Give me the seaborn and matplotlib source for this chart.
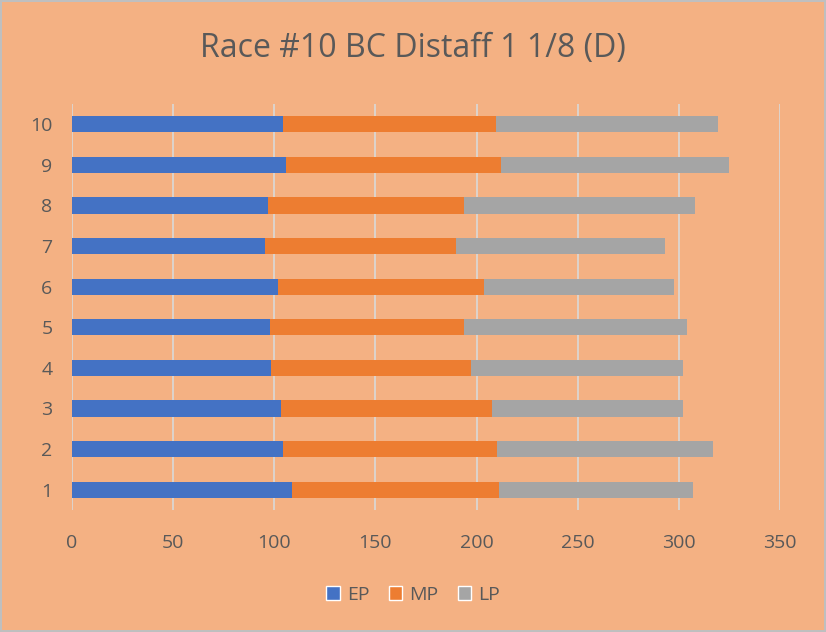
import numpy as np
import pandas as pd
import matplotlib
matplotlib.use("Agg")
from matplotlib import pyplot as plt
from matplotlib.patches import Patch
import seaborn as sns

races = ['1', '2', '3', '4', '5', '6', '7', '8', '9', '10']
ep = [109.0, 104.1, 103.4, 98.2, 97.8, 101.9, 95.3, 97.1, 105.7, 104.3]
mp = [102.2, 105.9, 104.3, 99.2, 96.1, 101.9, 94.4, 96.8, 106.3, 105.3]
lp = [95.8, 106.8, 94.2, 104.7, 110.3, 94.0, 103.5, 114.1, 113.0, 109.8]

BG = '#F4B183'
TXT = '#595959'
colors = {'EP': '#4472C4', 'MP': '#ED7D31', 'LP': '#A5A5A5'}

sns.set_style("white")
plt.rcParams['font.family'] = ['Open Sans', 'DejaVu Sans']

df = pd.DataFrame({'race': races, 'EP': ep, 'MP': mp, 'LP': lp})
df['c_EP'] = df['EP']
df['c_MP'] = df['EP'] + df['MP']
df['c_LP'] = df['c_MP'] + df['LP']
order = races[::-1]

fig = plt.figure(figsize=(8.26, 6.32), dpi=100, facecolor=BG,
                 edgecolor='#BFBFBF', linewidth=1.5)
ax = fig.add_axes([72 / 826, 1 - 510 / 632, 708 / 826, 406 / 632])
ax.set_facecolor(BG)

# stacked bars: draw the running totals, largest first
for key in ['LP', 'MP', 'EP']:
    sns.barplot(data=df, x='c_' + key, y='race', order=order, orient='h',
                color=colors[key], width=0.4, saturation=1, linewidth=0,
                ax=ax)

ax.set_xlim(0, 350)
ax.set_xticks(np.arange(0, 351, 50))
ax.xaxis.grid(True, color='#D9D9D9', linewidth=1.2)
ax.set_axisbelow(True)
for s in ax.spines.values():
    s.set_visible(False)
ax.set_xlabel('')
ax.set_ylabel('')
ax.tick_params(axis='both', length=0, labelsize=14, labelcolor=TXT)
ax.tick_params(axis='x', pad=17)
ax.tick_params(axis='y', pad=14)

fig.text(0.5, 1 - 48 / 632, 'Race #10 BC Distaff 1 1/8 (D)', ha='center',
         va='center', fontsize=23, color=TXT)

handles = [Patch(facecolor=colors[k], label=k) for k in ['EP', 'MP', 'LP']]
fig.legend(handles=handles, loc='center', bbox_to_anchor=(0.5, 1 - 595 / 632),
           ncol=3, frameon=False, fontsize=14, labelcolor=TXT,
           handlelength=0.7, handleheight=0.7, handletextpad=0.35,
           columnspacing=1.0)

fig.savefig('out.png', dpi=100, facecolor=BG, edgecolor='#BFBFBF')
